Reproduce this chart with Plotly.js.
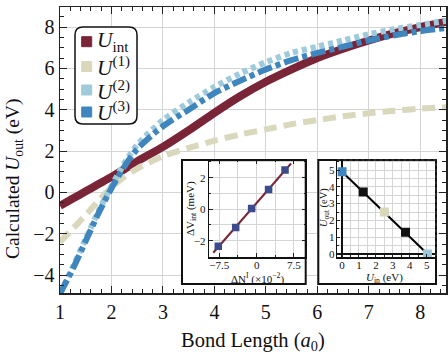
<!DOCTYPE html>
<html>
<head>
<meta charset="utf-8">
<script src="https://cdn.plot.ly/plotly-3.0.1.min.js"></script>
<style>
  html, body { margin: 0; padding: 0; background: #fff; }
  #chart { width: 448px; height: 354px; }
</style>
</head>
<body>
<div id="chart"></div>
<script>
// Main panel: calculated U_out versus bond length
const bondLength = [1, 1.25, 1.5, 1.75, 2, 2.25, 2.5, 3, 3.5, 4, 4.5, 5, 5.5, 6, 6.5, 7, 7.5, 8, 8.5];
const uInt = [-0.65, -0.3, 0.05, 0.4, 0.75, 1.12, 1.5, 2.2, 3.0, 3.85, 4.65, 5.35, 5.95, 6.5, 6.95, 7.35, 7.7, 8.0, 8.25];
const u1   = [-2.4, -1.75, -1.1, -0.4, 0.25, 0.75, 1.15, 1.75, 2.15, 2.5, 2.8, 3.05, 3.3, 3.5, 3.68, 3.83, 3.95, 4.05, 4.12];
const u2   = [-4.9, -3.6, -2.25, -0.9, 0.3, 1.4, 2.3, 3.5, 4.35, 5.1, 5.75, 6.3, 6.75, 7.05, 7.35, 7.65, 7.9, 8.1, 8.3];
const u3   = [-4.9, -3.7, -2.35, -1.0, 0.2, 1.25, 2.1, 3.2, 4.0, 4.8, 5.4, 5.95, 6.4, 6.75, 7.05, 7.35, 7.6, 7.8, 7.95];

const seriesNames = ['<i>U</i><sub>int</sub>', '<i>U</i><sup>(1)</sup>', '<i>U</i><sup>(2)</sup>', '<i>U</i><sup>(3)</sup>'];
const xTicks = [1, 2, 3, 4, 5, 6, 7, 8];
const yTicks = [-4, -2, 0, 2, 4, 6, 8];

// Left inset: linear response of the interaction potential
const deltaN = [-7.7, -4.2, -1.0, 2.4, 5.7];
const deltaV = [-2.35, -1.16, 0.04, 1.25, 2.48];
const fitN = [-8.7, 6.9];
const fitV = [-2.76, 2.9];
const insetNTicks = [-7.5, 0, 7.5];
const insetVTicks = [-2, 0, 2];

// Right inset: U_out against U_in
const uIn  = [0, 1.25, 2.5, 3.75, 5.05];
const uOut = [4.9, 3.7, 2.5, 1.3, 0];
const insetUTicks = [0, 1, 2, 3, 4, 5];

const colors = { int: '#7A2438', one: '#D9D8BC', two: '#9FCADB', three: '#3E86BD' };
const pointColors = [colors.three, '#111111', colors.one, '#111111', colors.two];

const SERIF = 'Liberation Serif, Times New Roman, serif';
const minus = v => (v < 0 ? '\u2212' + Math.abs(v) : String(v));

// plot-area geometry (pixels) used to place insets and the legend box
const PL = 60, PT = 7, PW = 386, PH = 286;
const px = x => (x - PL) / PW;
const py = y => (PT + PH - y) / PH;

const traces = [
  { x: bondLength, y: uInt, mode: 'lines', line: { color: colors.int, width: 8, shape: 'spline', smoothing: 0.7 }, name: 'Uint', showlegend: false, hoverinfo: 'skip' },
  { x: bondLength, y: u1, mode: 'lines', line: { color: colors.one, width: 6, dash: '13px,7px', shape: 'spline', smoothing: 0.7 }, name: 'U1', showlegend: false, hoverinfo: 'skip' },
  { x: bondLength, y: u2, mode: 'lines', line: { color: colors.two, width: 6, dash: '5px,4px', shape: 'spline', smoothing: 0.7 }, name: 'U2', showlegend: false, hoverinfo: 'skip' },
  { x: bondLength, y: u3, mode: 'lines', line: { color: colors.three, width: 6, dash: '15px,4px,5px,4px', shape: 'spline', smoothing: 0.7 }, name: 'U3', showlegend: false, hoverinfo: 'skip' },
  // white backing panels for the insets
  { x: [], y: [], xaxis: 'x2', yaxis: 'y2', showlegend: false, hoverinfo: 'skip' },
  { x: fitN, y: fitV, xaxis: 'x3', yaxis: 'y3', mode: 'lines', line: { color: colors.int, width: 2 }, showlegend: false, hoverinfo: 'skip' },
  { x: deltaN, y: deltaV, xaxis: 'x3', yaxis: 'y3', mode: 'markers', marker: { symbol: 'square', size: 7.5, color: '#3D4A8C' }, showlegend: false, hoverinfo: 'skip' },
  { x: [], y: [], xaxis: 'x4', yaxis: 'y4', showlegend: false, hoverinfo: 'skip' },
  { x: uIn, y: uOut, xaxis: 'x5', yaxis: 'y5', mode: 'lines+markers', line: { color: '#000', width: 2 }, marker: { symbol: 'square', size: 9, color: pointColors }, showlegend: false, hoverinfo: 'skip' }
];

const tickFontMain = { family: SERIF, size: 20, color: '#111' };
const tickFontInset = { family: SERIF, size: 11, color: '#111' };

const box1 = { x0: px(182), x1: px(305.7), y0: py(284), y1: py(160) };
const box2 = { x0: px(318.3), x1: px(436), y0: py(284), y1: py(160) };

const layout = {
  width: 448, height: 354,
  margin: { l: PL, r: 448 - PL - PW, t: PT, b: 354 - PT - PH },
  paper_bgcolor: '#fff', plot_bgcolor: '#fff',
  showlegend: false,
  font: { family: SERIF, color: '#111' },
  xaxis: {
    domain: [0, 1], range: [1, 8.5], tickvals: xTicks, ticktext: xTicks.map(minus),
    ticks: 'inside', ticklen: 7, tickwidth: 1, tickcolor: '#222',
    minor: { dtick: 0.2, tick0: 0, ticks: 'inside', ticklen: 4, tickcolor: '#222' },
    showline: true, linecolor: '#222', linewidth: 1.5, mirror: 'allticks',
    showgrid: true, gridcolor: '#d4d4d4', gridwidth: 1, zeroline: false,
    tickfont: tickFontMain
  },
  yaxis: {
    domain: [0, 1], range: [-4.87, 8.97], tickvals: yTicks, ticktext: yTicks.map(minus),
    ticks: 'inside', ticklen: 7, tickwidth: 1, tickcolor: '#222',
    minor: { dtick: 0.5, tick0: 0, ticks: 'inside', ticklen: 4, tickcolor: '#222' },
    showline: true, linecolor: '#222', linewidth: 1.5, mirror: 'allticks',
    showgrid: true, gridcolor: '#d4d4d4', gridwidth: 1, zeroline: false,
    tickfont: tickFontMain
  },
  xaxis2: { domain: [box1.x0, box1.x1], anchor: 'y2', range: [0, 1], visible: false },
  yaxis2: { domain: [box1.y0, box1.y1], anchor: 'x2', range: [0, 1], visible: false },
  xaxis3: {
    domain: [px(209.3), box1.x1], anchor: 'y3', range: [-9.5, 9.85],
    tickvals: insetNTicks, ticktext: insetNTicks.map(minus),
    ticks: 'inside', ticklen: 4, tickcolor: '#222', ticklabelstandoff: -3,
    minor: { dtick: 3.75, tick0: 0, ticks: 'inside', ticklen: 2, showgrid: true, gridcolor: '#d4d4d4' },
    showline: true, linecolor: '#111', linewidth: 1.5, mirror: 'allticks',
    showgrid: true, gridcolor: '#d4d4d4', zeroline: false, tickfont: tickFontInset
  },
  yaxis3: {
    domain: [py(257), box1.y1], anchor: 'x3', range: [-3.03, 3.12],
    tickvals: insetVTicks, ticktext: insetVTicks.map(minus),
    ticks: 'inside', ticklen: 4, tickcolor: '#222',
    minor: { dtick: 1, tick0: 0, ticks: 'inside', ticklen: 2, showgrid: true, gridcolor: '#d4d4d4' },
    showline: true, linecolor: '#111', linewidth: 1.5, mirror: 'allticks',
    showgrid: true, gridcolor: '#d4d4d4', zeroline: false, tickfont: tickFontInset
  },
  xaxis4: { domain: [box2.x0, box2.x1], anchor: 'y4', range: [0, 1], visible: false },
  yaxis4: { domain: [box2.y0, box2.y1], anchor: 'x4', range: [0, 1], visible: false },
  xaxis5: {
    domain: [px(337.3), box2.x1], anchor: 'y5', range: [-0.28, 5.55],
    tickvals: insetUTicks, ticktext: insetUTicks.map(minus),
    ticks: 'inside', ticklen: 3, tickcolor: '#222', ticklabelstandoff: -3,
    minor: { dtick: 0.5, tick0: 0, ticks: 'inside', ticklen: 2, showgrid: true, gridcolor: '#d4d4d4' },
    showline: true, linecolor: '#111', linewidth: 1.5,
    showgrid: true, gridcolor: '#d4d4d4', zeroline: true, zerolinecolor: '#111', zerolinewidth: 1.5,
    tickfont: tickFontInset
  },
  yaxis5: {
    domain: [py(257), box2.y1], anchor: 'x5', range: [-0.18, 5.6],
    tickvals: insetUTicks, ticktext: insetUTicks.map(minus),
    ticks: 'inside', ticklen: 3, tickcolor: '#222', ticklabelstandoff: -1,
    minor: { dtick: 0.5, tick0: 0, ticks: 'inside', ticklen: 2, showgrid: true, gridcolor: '#d4d4d4' },
    showline: true, linecolor: '#111', linewidth: 1.5,
    showgrid: true, gridcolor: '#d4d4d4', zeroline: true, zerolinecolor: '#111', zerolinewidth: 1.5,
    tickfont: tickFontInset
  },
  shapes: [],
  annotations: []
};

// inset frames
[box1, box2].forEach(b => {
  layout.shapes.push({ type: 'rect', xref: 'paper', yref: 'paper', x0: b.x0, x1: b.x1, y0: b.y0, y1: b.y1,
    line: { color: '#111', width: 2 }, fillcolor: 'rgba(0,0,0,0)', layer: 'above' });
});
// dotted upper/right frame of the right inset plot
layout.shapes.push({ type: 'path', xref: 'x5 domain', yref: 'y5 domain',
  path: 'M 0,1 L 1,1 L 1,0', line: { color: '#333', width: 1.5, dash: 'dot' }, layer: 'above' });

// rounded legend box, drawn in pixels from its upper-left corner
layout.shapes.push({
  type: 'path', xref: 'paper', yref: 'paper', xsizemode: 'pixel', ysizemode: 'pixel',
  xanchor: px(75), yanchor: py(27),
  path: 'M 8,0 L 54,0 Q 62,0 62,-8 L 62,-89 Q 62,-97 54,-97 L 8,-97 Q 0,-97 0,-89 L 0,-8 Q 0,0 8,0 Z',
  line: { color: '#111', width: 1.5 }, fillcolor: '#fff', layer: 'above'
});
const legendColors = [colors.int, colors.one, colors.two, colors.three];
const legendRows = [41.7, 66.5, 90, 112];
legendRows.forEach((yc, i) => {
  layout.shapes.push({
    type: 'rect', xref: 'paper', yref: 'paper', xsizemode: 'pixel', ysizemode: 'pixel',
    xanchor: px(86.7), yanchor: py(yc), x0: -5, x1: 5, y0: -5, y1: 5,
    fillcolor: legendColors[i], line: { color: legendColors[i], width: 1 }, layer: 'above'
  });
  layout.annotations.push({
    xref: 'paper', yref: 'paper', x: px(95), y: py(yc), xanchor: 'left', yanchor: 'middle',
    text: seriesNames[i], showarrow: false, font: { family: SERIF, size: 21.5, color: '#111' }
  });
});

// axis titles
layout.annotations.push(
  { xref: 'paper', yref: 'paper', x: px(253), y: py(341), xanchor: 'center', yanchor: 'middle',
    text: 'Bond Length (<i>a</i><sub>0</sub>)', showarrow: false, font: { family: SERIF, size: 20.5, color: '#111' } },
  { xref: 'paper', yref: 'paper', x: px(14), y: py(179), xanchor: 'center', yanchor: 'middle', textangle: -90,
    text: 'Calculated <i>U</i><sub>out</sub> (eV)', showarrow: false, font: { family: SERIF, size: 19.5, color: '#111' } },
  { xref: 'paper', yref: 'paper', x: px(257), y: py(278), xanchor: 'center', yanchor: 'middle',
    text: '\u0394N<sup>I</sup> (\u00d710<sup>\u22122</sup>)', showarrow: false, font: { family: SERIF, size: 11, color: '#111' } },
  { xref: 'paper', yref: 'paper', x: px(191), y: py(209), xanchor: 'center', yanchor: 'middle', textangle: -90,
    text: '\u0394V<sub>int</sub> (meV)', showarrow: false, font: { family: SERIF, size: 11, color: '#111' } },
  { xref: 'paper', yref: 'paper', x: px(384), y: py(278), xanchor: 'center', yanchor: 'middle',
    text: '<i>U</i><sub>in</sub> (eV)', showarrow: false, font: { family: SERIF, size: 11, color: '#111' } },
  { xref: 'paper', yref: 'paper', x: px(324), y: py(208), xanchor: 'center', yanchor: 'middle', textangle: -90,
    text: '<i>U</i><sub>out</sub> (eV)', showarrow: false, font: { family: SERIF, size: 10.5, color: '#111' } }
);

Plotly.newPlot('chart', traces, layout, { staticPlot: true, displayModeBar: false });
</script>
</body>
</html>
